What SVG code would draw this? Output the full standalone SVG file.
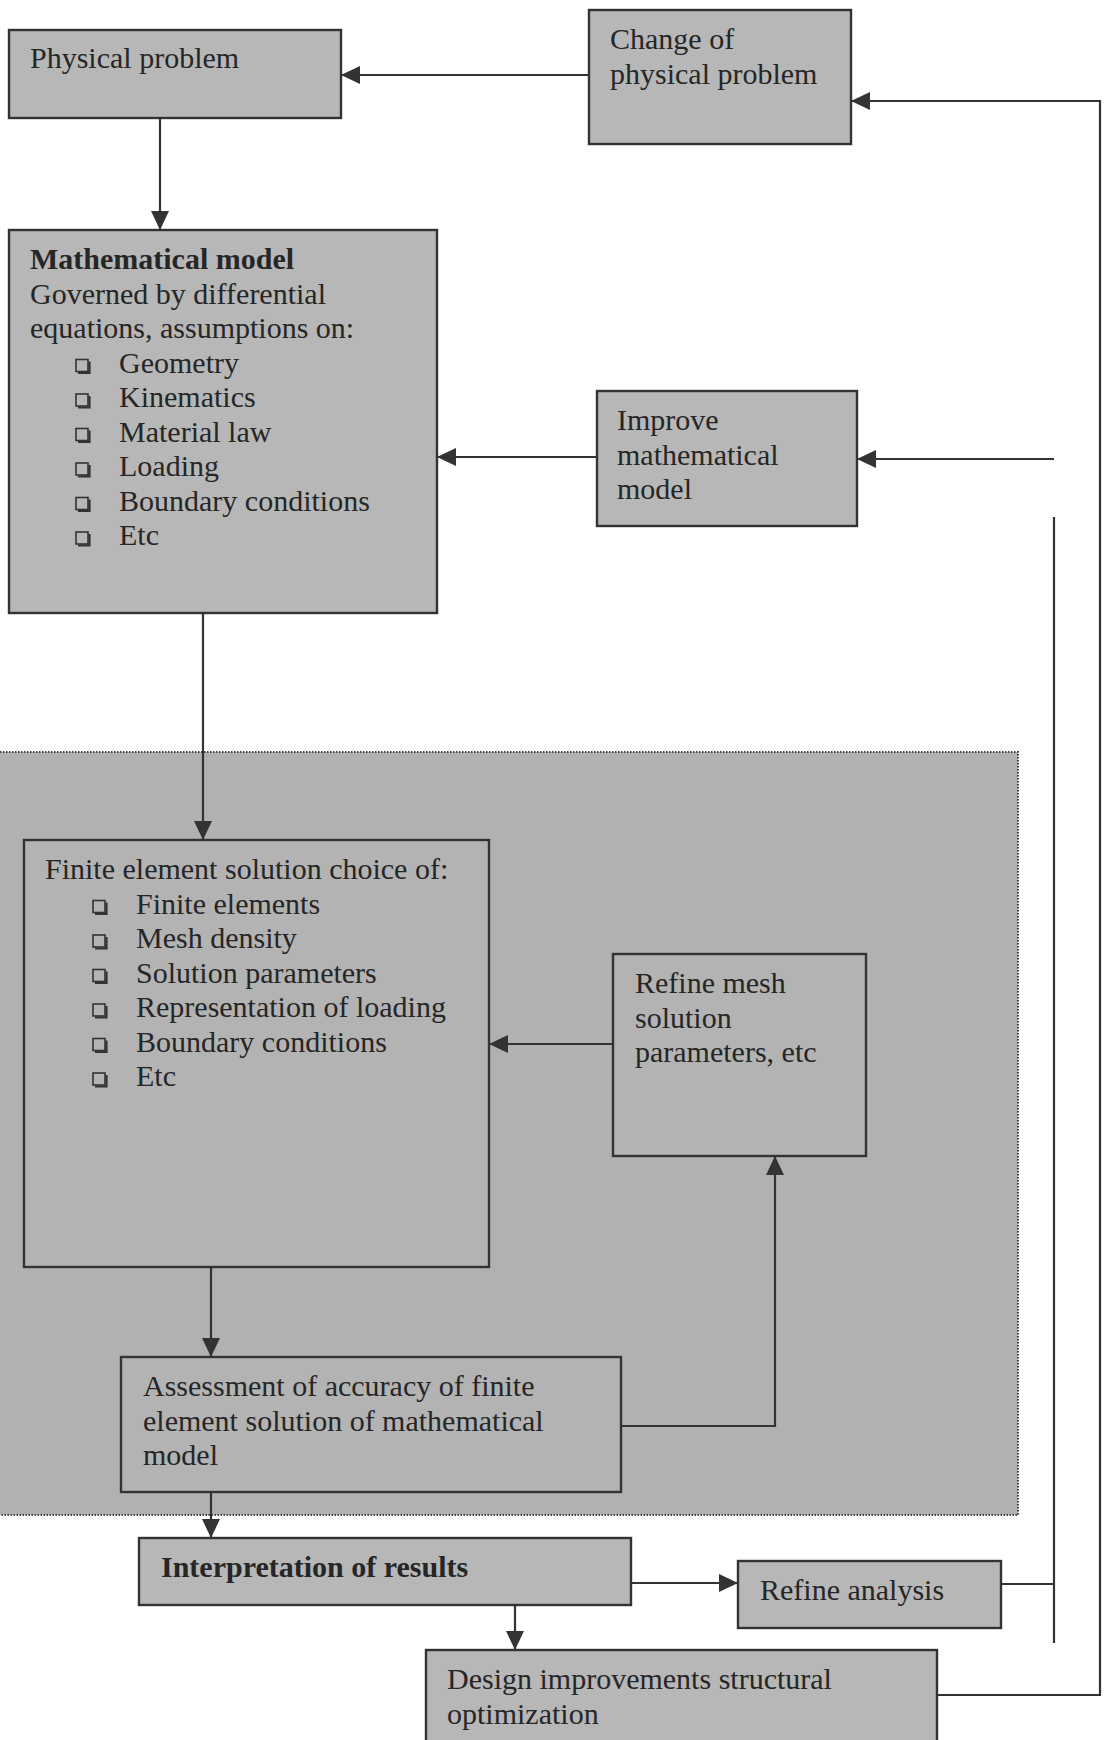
<svg xmlns="http://www.w3.org/2000/svg" xmlns:xlink="http://www.w3.org/1999/xlink" width="1106" height="1740" viewBox="0 0 1106 1740">
<style>
  .box { fill: #b7b7b7; stroke: #333; stroke-width: 2.4; }
  .ibox { fill: #b3b3b3; stroke: #333; stroke-width: 2.4; }
  .t { font-family: "Liberation Serif", "Times New Roman", serif; font-size: 30px; fill: #262626; }
  .b { font-weight: bold; }
  .c { fill: none; stroke: #333; stroke-width: 2.2; }
  .ca { fill: none; stroke: #333; stroke-width: 2.2; marker-end: url(#ah); }
</style>
<defs>
  <marker id="ah" markerUnits="userSpaceOnUse" markerWidth="20" markerHeight="18" refX="19" refY="9" orient="auto">
    <path d="M0,0 L19,9 L0,18 Z" fill="#333"/>
  </marker>
  <g id="bul">
    <rect x="0" y="-13" width="12" height="12" fill="none" stroke="#333" stroke-width="1.6"/>
    <path d="M13.5,-11 V0.5 H2" fill="none" stroke="#333" stroke-width="2.2"/>
  </g>
</defs>
<rect x="0" y="0" width="1106" height="1740" fill="#ffffff"/>

<g id="fe-region">
  <rect x="-3" y="752" width="1021" height="763" fill="#b1b1b1" stroke="#444" stroke-width="2" stroke-dasharray="1.5,1.5"/>
</g>

<g id="connectors">
  <line class="ca" x1="160" y1="118" x2="160" y2="230"/>
  <line class="ca" x1="589" y1="75" x2="341" y2="75"/>
  <polyline class="ca" points="937,1695 1100,1695 1100,101 851,101"/>
  <line class="ca" x1="597" y1="457" x2="437" y2="457"/>
  <line class="ca" x1="1054" y1="459" x2="857" y2="459"/>
  <line class="c" x1="1054" y1="517" x2="1054" y2="1643"/>
  <line class="c" x1="1001" y1="1584" x2="1054" y2="1584"/>
  <line class="ca" x1="203" y1="613" x2="203" y2="840"/>
  <line class="ca" x1="613" y1="1044" x2="489" y2="1044"/>
  <line class="ca" x1="211" y1="1267" x2="211" y2="1357"/>
  <polyline class="ca" points="621,1426 775,1426 775,1156"/>
  <line class="ca" x1="211" y1="1492" x2="211" y2="1538"/>
  <line class="ca" x1="631" y1="1583" x2="738" y2="1583"/>
  <line class="ca" x1="515" y1="1605" x2="515" y2="1650"/>
</g>

<g id="physical-problem">
  <rect class="box" x="9" y="30" width="332" height="88"/>
  <text class="t" x="30" y="68">Physical problem</text>
</g>

<g id="change-physical-problem">
  <rect class="box" x="589" y="10" width="262" height="134"/>
  <text class="t" x="610" y="49">Change of</text>
  <text class="t" x="610" y="83.5">physical problem</text>
</g>

<g id="mathematical-model">
  <rect class="box" x="9" y="230" width="428" height="383"/>
  <text class="t b" x="30" y="269">Mathematical model</text>
  <text class="t" x="30" y="303.5">Governed by differential</text>
  <text class="t" x="30" y="338">equations, assumptions on:</text>
  <use xlink:href="#bul" x="76" y="372.5"/>
  <text class="t" x="119" y="372.5">Geometry</text>
  <use xlink:href="#bul" x="76" y="407"/>
  <text class="t" x="119" y="407">Kinematics</text>
  <use xlink:href="#bul" x="76" y="441.5"/>
  <text class="t" x="119" y="441.5">Material law</text>
  <use xlink:href="#bul" x="76" y="476"/>
  <text class="t" x="119" y="476">Loading</text>
  <use xlink:href="#bul" x="76" y="510.5"/>
  <text class="t" x="119" y="510.5">Boundary conditions</text>
  <use xlink:href="#bul" x="76" y="545"/>
  <text class="t" x="119" y="545">Etc</text>
</g>

<g id="improve-model">
  <rect class="box" x="597" y="391" width="260" height="135"/>
  <text class="t" x="617" y="430">Improve</text>
  <text class="t" x="617" y="464.5">mathematical</text>
  <text class="t" x="617" y="499">model</text>
</g>

<g id="fe-solution">
  <rect class="ibox" x="24" y="840" width="465" height="427"/>
  <text class="t" x="45" y="879">Finite element solution choice of:</text>
  <use xlink:href="#bul" x="93" y="913.5"/>
  <text class="t" x="136" y="913.5">Finite elements</text>
  <use xlink:href="#bul" x="93" y="948"/>
  <text class="t" x="136" y="948">Mesh density</text>
  <use xlink:href="#bul" x="93" y="982.5"/>
  <text class="t" x="136" y="982.5">Solution parameters</text>
  <use xlink:href="#bul" x="93" y="1017"/>
  <text class="t" x="136" y="1017">Representation of loading</text>
  <use xlink:href="#bul" x="93" y="1051.5"/>
  <text class="t" x="136" y="1051.5">Boundary conditions</text>
  <use xlink:href="#bul" x="93" y="1086"/>
  <text class="t" x="136" y="1086">Etc</text>
</g>

<g id="refine-mesh">
  <rect class="ibox" x="613" y="954" width="253" height="202"/>
  <text class="t" x="635" y="993">Refine mesh</text>
  <text class="t" x="635" y="1027.5">solution</text>
  <text class="t" x="635" y="1062">parameters, etc</text>
</g>

<g id="assessment">
  <rect class="ibox" x="121" y="1357" width="500" height="135"/>
  <text class="t" x="143" y="1396">Assessment of accuracy of finite</text>
  <text class="t" x="143" y="1430.5">element solution of mathematical</text>
  <text class="t" x="143" y="1465">model</text>
</g>

<g id="interpretation">
  <rect class="box" x="139" y="1538" width="492" height="67"/>
  <text class="t b" x="161" y="1577">Interpretation of results</text>
</g>

<g id="refine-analysis">
  <rect class="box" x="738" y="1561" width="263" height="67"/>
  <text class="t" x="760" y="1600">Refine analysis</text>
</g>

<g id="design-improvements">
  <rect class="box" x="426" y="1650" width="511" height="100"/>
  <text class="t" x="447" y="1689">Design improvements structural</text>
  <text class="t" x="447" y="1723.5">optimization</text>
</g>
</svg>
